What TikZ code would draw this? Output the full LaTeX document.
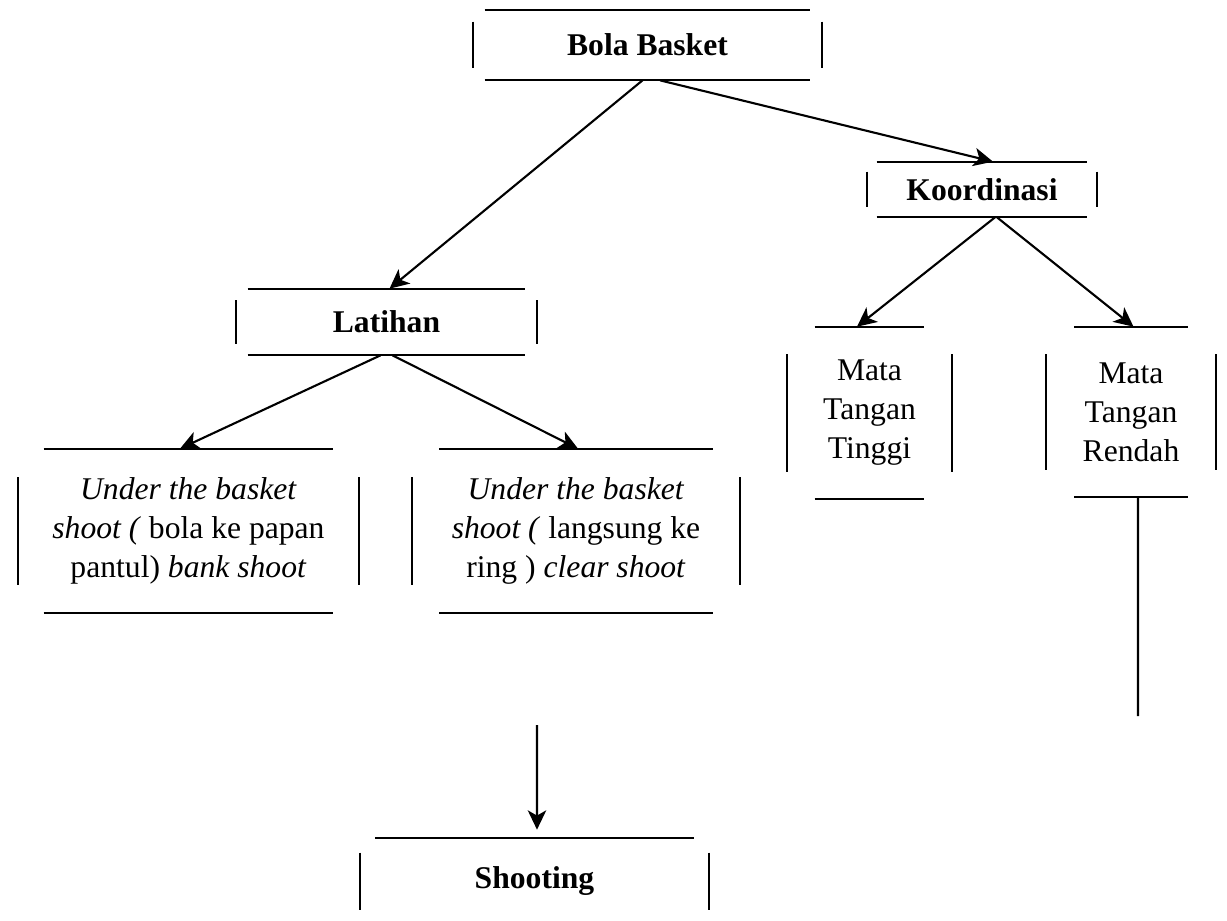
\documentclass[tikz,border=0pt]{standalone}
\usepackage{fontspec}
\setmainfont{Liberation Serif}
\usetikzlibrary{arrows.meta}

% box drawn as four separate strokes: top, bottom, left, right
\newcommand{\splitbox}[3]{%
  \draw[edge] ([xshift=#2]#1.north west) -- ([xshift=-#2]#1.north east);
  \draw[edge] ([xshift=#2]#1.south west) -- ([xshift=-#2]#1.south east);
  \draw[edge] ([yshift=-#3]#1.north west) -- ([yshift=#3]#1.south west);
  \draw[edge] ([yshift=-#3]#1.north east) -- ([yshift=#3]#1.south east);
}

\begin{document}
\begin{tikzpicture}[x=0.02cm, y=-0.02cm,
  font=\fontsize{18}{22.2}\selectfont, >={Stealth[length=11pt,width=10.5pt,inset=3pt]},
  box/.style={inner sep=0pt, align=center},
  edge/.style={line width=1.2pt},
  arr/.style={->, line width=1.2pt}]
  \clip (0,0) rectangle (1227,920);

  \node[box, minimum width=6.98cm, minimum height=1.4cm] (bola) at (647.5,45) {\textbf{Bola Basket}};
  \node[box, minimum width=4.6cm, minimum height=1.1cm] (koor) at (982,189.5) {\textbf{Koordinasi}};
  \node[box, minimum width=6.02cm, minimum height=1.32cm] (lat) at (386.5,322) {\textbf{Latihan}};
  \node[box, minimum width=6.82cm, minimum height=3.28cm] (bank) at (188.5,531)
    {\textit{Under the basket}\\\textit{shoot (} bola ke papan\\pantul) \textit{bank shoot}};
  \node[box, minimum width=6.56cm, minimum height=3.28cm] (clear) at (576,531)
    {\textit{Under the basket}\\\textit{shoot (} langsung ke\\ring ) \textit{clear shoot}};
  \node[box, minimum width=3.3cm, minimum height=3.44cm] (tinggi) at (869.5,413) {Mata\\Tangan\\Tinggi};
  \node[box, minimum width=3.4cm, minimum height=3.4cm] (rendah) at (1131,412) {Mata\\Tangan\\Rendah};
  \node[box, minimum width=6.98cm, minimum height=1.74cm] (shoot) at (534.5,881.5) {\textbf{Shooting}};

  \splitbox{bola}{0.24cm}{0.24cm}
  \splitbox{koor}{0.2cm}{0.2cm}
  \splitbox{lat}{0.24cm}{0.23cm}
  \splitbox{bank}{0.52cm}{0.57cm}
  \splitbox{clear}{0.55cm}{0.57cm}
  \splitbox{tinggi}{0.56cm}{0.55cm}
  \splitbox{rendah}{0.57cm}{0.55cm}
  \splitbox{shoot}{0.31cm}{0.3cm}

  \coordinate (up) at (537,725);
  \coordinate (down) at (1138,716);

  \draw[arr] ([xshift=-0.1cm]bola.south) -- ([xshift=0.06cm]lat.north);
  \draw[arr] ([xshift=0.25cm]bola.south) -- ([xshift=0.22cm]koor.north);
  \draw[arr] ([xshift=0.26cm]koor.south) -- ([xshift=-0.25cm]tinggi.north);
  \draw[arr] ([xshift=0.3cm]koor.south) -- ([xshift=0.05cm]rendah.north);
  \draw[arr] ([xshift=-0.12cm]lat.south) -- ([xshift=-0.17cm]bank.north);
  \draw[arr] ([xshift=0.12cm]lat.south) -- ([xshift=0.04cm]clear.north);
  \draw[arr] (up) -- ([xshift=0.05cm,yshift=0.16cm]shoot.north);
  \draw[edge] ([xshift=0.14cm]rendah.south) -- (down);
\end{tikzpicture}
\end{document}
